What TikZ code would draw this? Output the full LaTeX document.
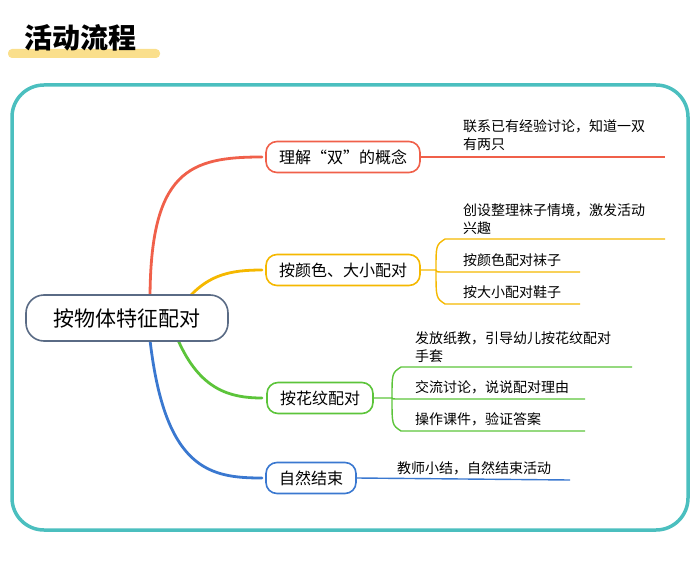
\documentclass[tikz,border=0pt]{standalone}
\usepackage{fontspec}
\setmainfont{Noto Sans CJK SC}
\begin{document}
\begin{tikzpicture}[x=1pt,y=-1pt,
  box/.style={draw=#1,line width=1.6pt,rounded corners=11pt,minimum height=31pt,inner xsep=13pt,font=\fontsize{16}{16}\selectfont,fill=white},
  leaf/.style={anchor=south west,align=left,font=\fontsize{14}{18}\selectfont,inner sep=1pt},
  br/.style={draw=#1,line width=2.8pt,line cap=round}]
\useasboundingbox (0,0) rectangle (700,561);
\definecolor{cr}{HTML}{F0604A}\definecolor{co}{HTML}{F5B800}
\definecolor{cg}{HTML}{5CC43A}\definecolor{cb}{HTML}{3A78D0}
\definecolor{teal}{HTML}{4BBFBF}\definecolor{gb}{HTML}{5A6B85}
\fill[co!45,rounded corners=4pt] (8,49) rectangle (160,58);
\node[font=\fontsize{28}{28}\selectfont\bfseries,anchor=west,inner sep=0pt] (title) at (24,38) {活动流程};
\draw[teal,line width=3.5pt,rounded corners=32pt] (12,85) rectangle (688,530);
% branches
\draw[br=cr] (150,300) .. controls (150,170) and (190,157) .. (262,157);
\draw[br=co] (190,296) .. controls (210,275) and (230,270) .. (262,270);
\draw[br=cg] (178,340) .. controls (200,390) and (230,398) .. (262,398);
\draw[br=cb] (150,340) .. controls (165,470) and (210,478) .. (262,478);
\node[draw=gb,line width=1.6pt,rounded corners=18pt,minimum width=202pt,minimum height=46pt,font=\fontsize{21}{21}\selectfont,fill=white] (root) at (127,318) {按物体特征配对};
\node[box=cr] (b1) at (343,157) {理解“双”的概念};
\node[box=co] (b2) at (343,270) {按颜色、大小配对};
\node[box=cg] (b3) at (320,398) {按花纹配对};
\node[box=cb] (b4) at (311,478) {自然结束};
% leaves
\coordinate (e1) at (665,157);
\draw[cr,line width=1.4pt] (b1.east) -- (e1);
\node[leaf] (t1) at (462,152) {联系已有经验讨论，知道一双\\有两只};
\coordinate (e2a) at (665,239);\coordinate (e2b) at (580,272);\coordinate (e2c) at (580,304);
\coordinate (j2) at (436,270);
\draw[co,line width=1.4pt] (b2.east) -- (j2) .. controls (436,245) .. (445,239) -- (e2a);
\draw[co,line width=1.4pt] (j2) .. controls (436,272) .. (445,272) -- (e2b);
\draw[co,line width=1.4pt] (j2) .. controls (436,298) .. (445,304) -- (e2c);
\node[leaf] (t2a) at (462,236) {创设整理袜子情境，激发活动\\兴趣};
\node[leaf] (t2b) at (462,268) {按颜色配对袜子};
\node[leaf] (t2c) at (462,300) {按大小配对鞋子};
\coordinate (e3a) at (632,367);\coordinate (e3b) at (585,399);\coordinate (e3c) at (585,431);
\coordinate (j3) at (392,398);
\draw[cg,line width=1.4pt] (b3.east) -- (j3) .. controls (392,373) .. (401,367) -- (e3a);
\draw[cg,line width=1.4pt] (j3) .. controls (392,399) .. (401,399) -- (e3b);
\draw[cg,line width=1.4pt] (j3) .. controls (392,425) .. (401,431) -- (e3c);
\node[leaf] (t3a) at (414,364) {发放纸教，引导幼儿按花纹配对\\手套};
\node[leaf] (t3b) at (414,395) {交流讨论，说说配对理由};
\node[leaf] (t3c) at (414,427) {操作课件，验证答案};
\coordinate (e4) at (570,480);
\draw[cb,line width=1.4pt] (b4.east) -- (e4);
\node[leaf] (t4) at (396,476) {教师小结，自然结束活动};
\end{tikzpicture}
\end{document}
